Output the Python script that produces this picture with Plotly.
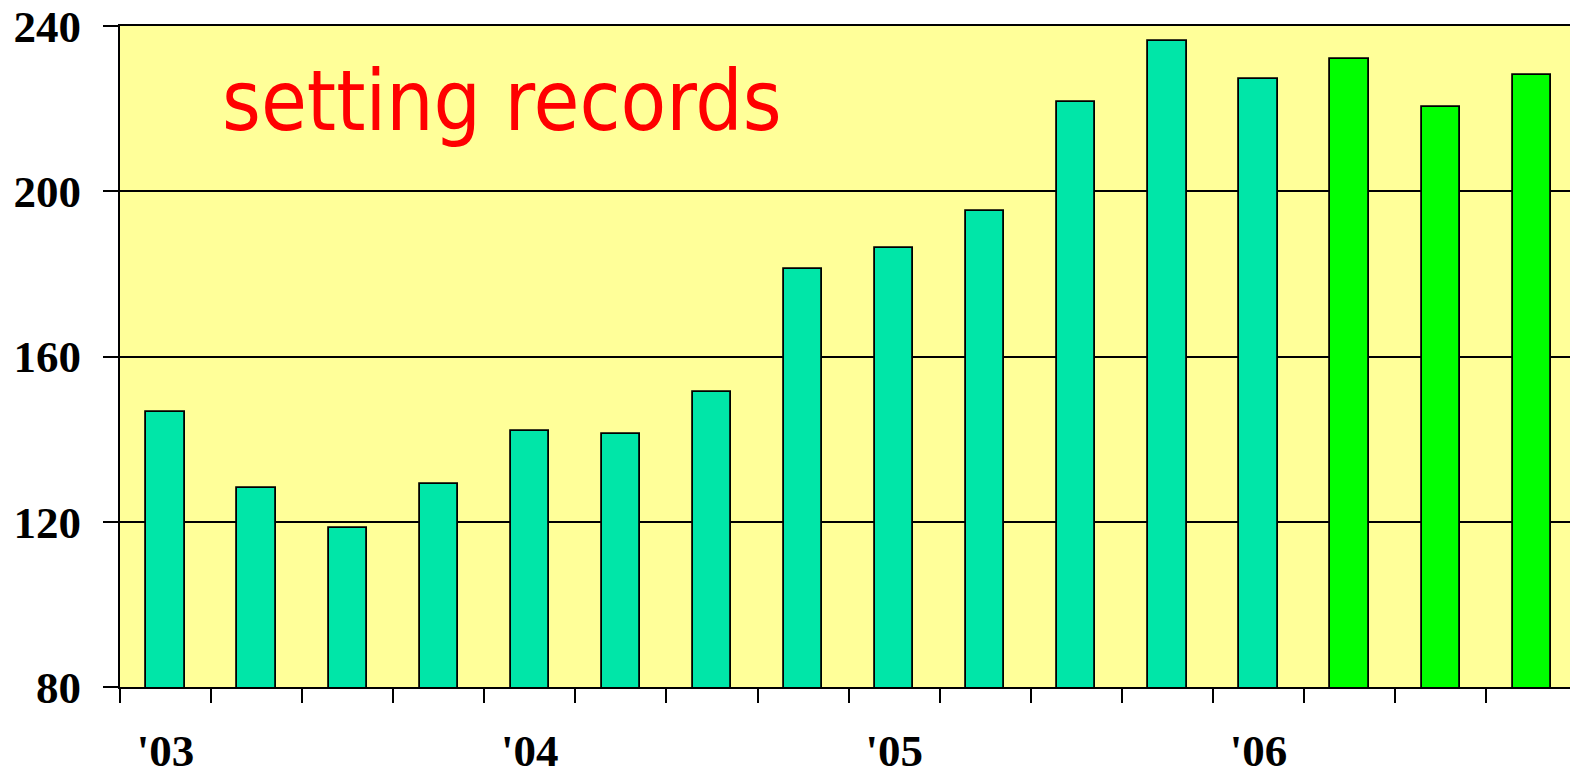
import plotly.graph_objects as go

quarters = ["2003Q1", "2003Q2", "2003Q3", "2003Q4",
            "2004Q1", "2004Q2", "2004Q3", "2004Q4",
            "2005Q1", "2005Q2", "2005Q3", "2005Q4",
            "2006Q1", "2006Q2", "2006Q3", "2006Q4"]
values = [146.6, 128.2, 118.5, 129.1, 142.0, 141.2, 151.4, 181.2,
          186.3, 195.2, 221.6, 236.4, 227.2, 232.0, 220.4, 228.1]
year_labels = ["'03", "'04", "'05", "'06"]
year_positions = [0, 4, 8, 12]
y_ticks = [80, 120, 160, 200, 240]
title_text = "setting records"

n_recent = 3
TEAL = "#00E6A8"
GREEN = "#00FF00"
colors = [TEAL] * (len(values) - n_recent) + [GREEN] * n_recent
xpos = list(range(len(values)))
boundaries = [i - 0.5 for i in range(len(values) + 1)]

fig = go.Figure()
fig.add_trace(go.Bar(
    x=xpos, y=values, width=0.42,
    marker=dict(color=colors, line=dict(color="black", width=1.8)),
    hovertext=quarters, showlegend=False,
))

label_font = dict(family="Liberation Serif, Times New Roman, serif", size=45,
                  color="black", weight="bold")

L, T, B = 120, 26, 87
PW, PH = 1570 - L, 774 - T - B

fig.update_layout(
    width=1570, height=774,
    margin=dict(l=L, r=0, t=T, b=B, autoexpand=False),
    paper_bgcolor="white",
    plot_bgcolor="#FFFF99",
    bargap=0,
    xaxis=dict(
        range=[-0.5, 15.42], automargin=False,
        tickmode="array", tickvals=year_positions, ticktext=year_labels,
        ticks="", tickfont=label_font, ticklabelstandoff=23,
        ticklabeloverflow="allow",
        showgrid=False, zeroline=False,
        showline=True, linecolor="black", linewidth=2, mirror=True,
        minor=dict(tickmode="array", tickvals=boundaries, ticks="outside",
                   ticklen=14, tickwidth=2, tickcolor="black", showgrid=False),
    ),
    yaxis=dict(
        range=[80, 240], automargin=False,
        tickmode="array", tickvals=y_ticks,
        ticks="outside", ticklen=15, tickwidth=2, tickcolor="black",
        tickfont=label_font, ticklabelstandoff=13,
        ticklabeloverflow="allow",
        showgrid=True, gridcolor="black", gridwidth=1.5,
        zeroline=False,
        showline=True, linecolor="black", linewidth=2,
    ),
    annotations=[dict(
        text=title_text, xref="paper", yref="paper",
        x=100 / PW, y=1 - 75 / PH,
        xanchor="left", yanchor="middle", showarrow=False,
        font=dict(family="DejaVu Sans Condensed, DejaVu Sans, sans-serif",
                  size=83, color="#FF0000"),
    )],
)

fig.write_html(
    "out.html",
    config={"displayModeBar": False},
    post_script="document.body.style.margin='0';document.body.style.overflow='hidden';",
)
